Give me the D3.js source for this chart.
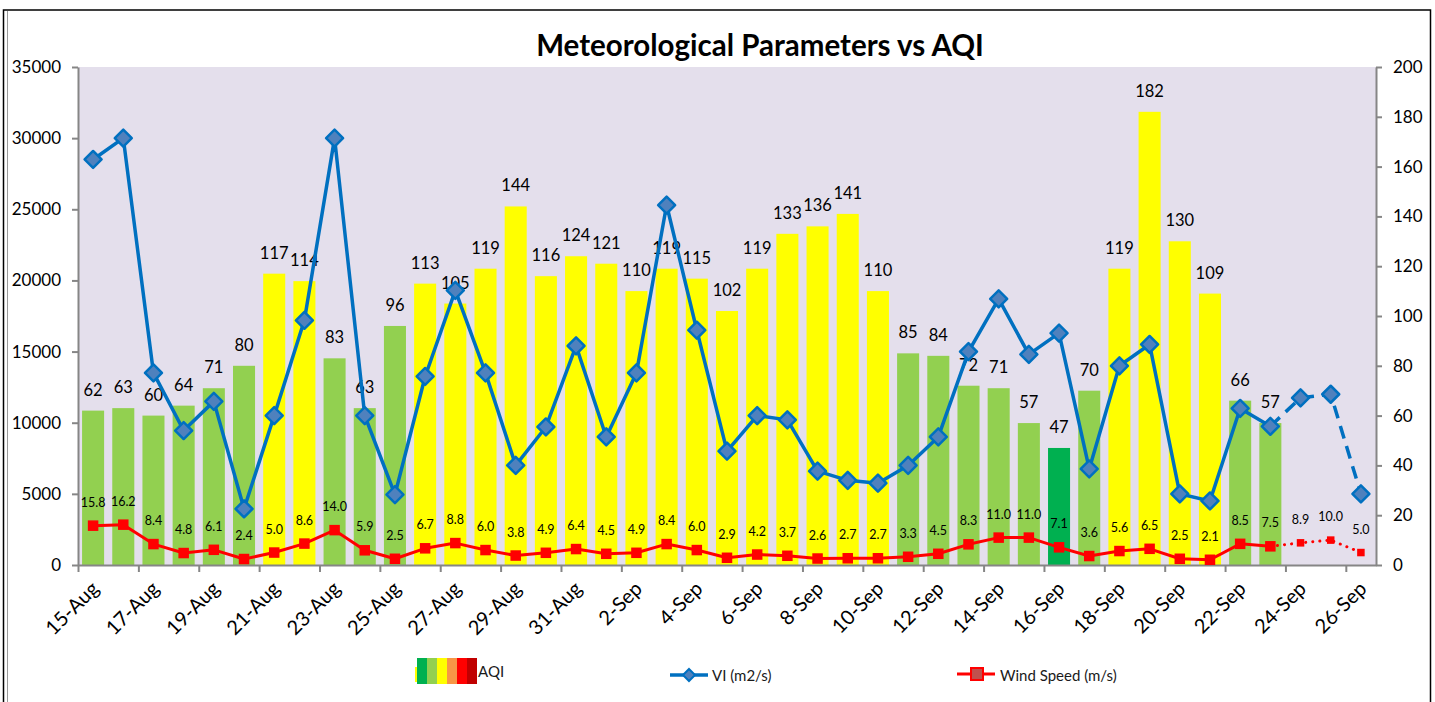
<!DOCTYPE html>
<html>
<head>
<meta charset="utf-8">
<script src="https://cdn.jsdelivr.net/npm/d3@7"></script>
<style>
  body { margin: 0; background: #fff; }
  svg { font-family: Lato, "Open Sans", sans-serif; }
</style>
</head>
<body>
<div id="chart"></div>
<script>
// categories, one per day
var dates = ["15-Aug","16-Aug","17-Aug","18-Aug","19-Aug","20-Aug","21-Aug","22-Aug","23-Aug","24-Aug",
             "25-Aug","26-Aug","27-Aug","28-Aug","29-Aug","30-Aug","31-Aug","1-Sep","2-Sep","3-Sep",
             "4-Sep","5-Sep","6-Sep","7-Sep","8-Sep","9-Sep","10-Sep","11-Sep","12-Sep","13-Sep",
             "14-Sep","15-Sep","16-Sep","17-Sep","18-Sep","19-Sep","20-Sep","21-Sep","22-Sep","23-Sep",
             "24-Sep","25-Sep","26-Sep"];

// AQI bars (right axis), no bars for the last three days
var aqi = [62, 63, 60, 64, 71, 80, 117, 114, 83, 63,
           96, 113, 105, 119, 144, 116, 124, 121, 110, 119,
           115, 102, 119, 133, 136, 141, 110, 85, 84, 72,
           71, 57, 47, 70, 119, 182, 130, 109, 66, 57];

// ventilation index (left axis)
var vi = [28500, 30000, 13500, 9450, 11500, 3950, 10500, 17200, 30000, 10500,
          4950, 13250, 19300, 13500, 7000, 9700, 15400, 9000, 13500, 25300,
          16500, 8000, 10500, 10200, 6600, 5950, 5750, 7000, 9000, 15000,
          18700, 14800, 16300, 6750, 14000, 15500, 5000, 4500, 11000, 9750,
          11750, 12000, 5000];

// wind speed (right axis)
var wind = [15.8, 16.2, 8.4, 4.8, 6.1, 2.4, 5.0, 8.6, 14.0, 5.9,
            2.5, 6.7, 8.8, 6.0, 3.8, 4.9, 6.4, 4.5, 4.9, 8.4,
            6.0, 2.9, 4.2, 3.7, 2.6, 2.7, 2.7, 3.3, 4.5, 8.3,
            11.0, 11.0, 7.1, 3.6, 5.6, 6.5, 2.5, 2.1, 8.5, 7.5,
            8.9, 10.0, 5.0];

var leftTicks = [0, 5000, 10000, 15000, 20000, 25000, 30000, 35000];
var rightTicks = [0, 20, 40, 60, 80, 100, 120, 140, 160, 180, 200];
var aqiLegendColors = ["#00B050", "#92D050", "#FFFF00", "#F79646", "#FF0000", "#C00000"];

var lastObserved = 39; // 23-Sep, after this the lines are forecast (dashed)

function aqiColor(v){
  if (v <= 50) return "#00B050";
  if (v <= 100) return "#92D050";
  if (v <= 200) return "#FFFF00";
  if (v <= 300) return "#F79646";
  if (v <= 400) return "#FF0000";
  return "#C00000";
}

var w = 1435, h = 702;
var plotLeft = 78, plotRight = 1376, plotTop = 67, plotBottom = 565;

var svg = d3.select("#chart").append("svg")
  .attr("width", w)
  .attr("height", h);

// frame
svg.append("rect")
  .attr("x", 3.5).attr("y", 10)
  .attr("width", 1427).attr("height", 700)
  .attr("fill", "none")
  .attr("stroke", "#000")
  .attr("stroke-width", 1.5);
svg.append("line")
  .attr("x1", 7.5).attr("y1", 11).attr("x2", 7.5).attr("y2", h)
  .attr("stroke", "#999").attr("stroke-width", 1);

var x = d3.scaleBand()
  .domain(d3.range(dates.length))
  .range([plotLeft, plotRight])
  .paddingInner(0.27)
  .paddingOuter(0.135);

var xEdge = d3.scaleLinear()
  .domain([0, dates.length])
  .range([plotLeft, plotRight]);

var yL = d3.scaleLinear().domain([0, 35000]).range([plotBottom, plotTop]);
var yR = d3.scaleLinear().domain([0, 200]).range([plotBottom, plotTop]);

function cx(i){ return x(i) + x.bandwidth() / 2; }

// plot background
svg.append("rect")
  .attr("x", plotLeft).attr("y", plotTop)
  .attr("width", plotRight - plotLeft).attr("height", plotBottom - plotTop)
  .attr("fill", "#E4DFEC");

// title
svg.append("text")
  .attr("x", 760).attr("y", 56)
  .attr("text-anchor", "middle")
  .attr("font-size", 29.5)
  .attr("font-weight", "bold")
  .attr("fill", "#000")
  .text("Meteorological Parameters vs AQI");

// bars
svg.selectAll("rect.bar")
  .data(aqi)
  .enter()
  .append("rect")
  .attr("class", "bar")
  .attr("x", function(d, i){ return x(i); })
  .attr("y", function(d){ return yR(d); })
  .attr("width", x.bandwidth())
  .attr("height", function(d){ return plotBottom - yR(d); })
  .attr("fill", function(d){ return aqiColor(d); });

// axes
var axisColor = "#868686";

var gL = svg.append("g")
  .attr("transform", "translate(" + plotLeft + ",0)")
  .call(d3.axisLeft(yL).tickValues(leftTicks).tickFormat(d3.format("d")).tickSize(6).tickPadding(11).tickSizeOuter(0));
var gR = svg.append("g")
  .attr("transform", "translate(" + plotRight + ",0)")
  .call(d3.axisRight(yR).tickValues(rightTicks).tickSize(6).tickPadding(11).tickSizeOuter(0));
var gX = svg.append("g")
  .attr("transform", "translate(0," + plotBottom + ")")
  .call(d3.axisBottom(xEdge).tickValues(d3.range(0, dates.length, 2)).tickFormat("").tickSize(7).tickSizeOuter(0));

[gL, gR, gX].forEach(function(g){
  g.select(".domain").attr("stroke", axisColor).attr("stroke-width", 2);
  g.selectAll(".tick line").attr("stroke", axisColor).attr("stroke-width", 2);
  g.selectAll(".tick text").attr("font-size", 17).attr("fill", "#000").attr("font-family", "Lato, sans-serif");
});

// x labels, every other day
svg.selectAll("text.xlab")
  .data(dates.filter(function(d, i){ return i % 2 == 0; }))
  .enter()
  .append("text")
  .attr("class", "xlab")
  .attr("text-anchor", "end")
  .attr("font-size", 20)
  .attr("fill", "#000")
  .attr("transform", function(d, i){
    return "translate(" + (cx(i * 2) + 7) + "," + 590 + ") rotate(-45)";
  })
  .text(function(d){ return d; });

// AQI value labels
svg.selectAll("text.aqilab")
  .data(aqi)
  .enter()
  .append("text")
  .attr("class", "aqilab")
  .attr("x", function(d, i){ return cx(i); })
  .attr("y", function(d){ return yR(d) - 15; })
  .attr("text-anchor", "middle")
  .attr("font-size", 16.5)
  .attr("fill", "#000")
  .text(function(d){ return d; });

// VI line
var viLine = d3.line()
  .x(function(d){ return cx(d.i); })
  .y(function(d){ return yL(d.v); });

var viPts = vi.map(function(v, i){ return {i: i, v: v}; });

svg.append("path")
  .datum(viPts.slice(0, lastObserved + 1))
  .attr("d", viLine)
  .attr("fill", "none")
  .attr("stroke", "#0070C0")
  .attr("stroke-width", 3.5)
  .attr("stroke-linejoin", "round");

svg.append("path")
  .datum(viPts.slice(lastObserved))
  .attr("d", viLine)
  .attr("fill", "none")
  .attr("stroke", "#0070C0")
  .attr("stroke-width", 3.5)
  .attr("stroke-dasharray", "13,8");

// wind line
var windLine = d3.line()
  .x(function(d){ return cx(d.i); })
  .y(function(d){ return yR(d.v); });

var windPts = wind.map(function(v, i){ return {i: i, v: v}; });

svg.append("path")
  .datum(windPts.slice(0, lastObserved + 1))
  .attr("d", windLine)
  .attr("fill", "none")
  .attr("stroke", "#FF0000")
  .attr("stroke-width", 3)
  .attr("stroke-linejoin", "round");

svg.append("path")
  .datum(windPts.slice(lastObserved))
  .attr("d", windLine)
  .attr("fill", "none")
  .attr("stroke", "#FF0000")
  .attr("stroke-width", 3)
  .attr("stroke-linecap", "round")
  .attr("stroke-dasharray", "0.1,7");

// wind markers
svg.selectAll("rect.wmark")
  .data(windPts)
  .enter()
  .append("rect")
  .attr("class", "wmark")
  .attr("x", function(d){ return cx(d.i) - (d.i > lastObserved ? 3 : 4.5); })
  .attr("y", function(d){ return yR(d.v) - (d.i > lastObserved ? 3 : 4.5); })
  .attr("width", function(d){ return d.i > lastObserved ? 6 : 9; })
  .attr("height", function(d){ return d.i > lastObserved ? 6 : 9; })
  .attr("fill", "#FF0000")
  .attr("stroke", "#FF0000")
  .attr("stroke-width", 1.5);

// VI diamond markers
svg.selectAll("path.vmark")
  .data(viPts)
  .enter()
  .append("path")
  .attr("class", "vmark")
  .attr("d", "M0,-8.5L8.5,0L0,8.5L-8.5,0Z")
  .attr("transform", function(d){ return "translate(" + cx(d.i) + "," + yL(d.v) + ")"; })
  .attr("fill", "#4F81BD")
  .attr("stroke", "#0070C0")
  .attr("stroke-width", 2.5)
  .attr("stroke-linejoin", "round");

// wind value labels
svg.selectAll("text.wlab")
  .data(windPts)
  .enter()
  .append("text")
  .attr("class", "wlab")
  .attr("x", function(d){ return cx(d.i); })
  .attr("y", function(d){ return yR(d.v) - 19; })
  .attr("text-anchor", "middle")
  .attr("font-size", 12.5)
  .attr("fill", "#000")
  .text(function(d){ return d.v.toFixed(1); });

// legend
var leg = svg.append("g").attr("font-size", 15).attr("fill", "#1a1a1a");

leg.append("rect")
  .attr("x", 415).attr("y", 667).attr("width", 3).attr("height", 15)
  .attr("fill", "#FFFF00");
leg.selectAll("rect.sw")
  .data(aqiLegendColors)
  .enter()
  .append("rect")
  .attr("class", "sw")
  .attr("x", function(d, i){ return 417 + i * 10; })
  .attr("y", 658)
  .attr("width", 10)
  .attr("height", 26)
  .attr("fill", function(d){ return d; });
leg.append("text").attr("x", 478).attr("y", 677).text("AQI");

leg.append("line")
  .attr("x1", 670).attr("y1", 675).attr("x2", 708).attr("y2", 675)
  .attr("stroke", "#0070C0").attr("stroke-width", 3.5);
leg.append("path")
  .attr("d", "M0,-6L6,0L0,6L-6,0Z")
  .attr("transform", "translate(689,675)")
  .attr("fill", "#4F81BD").attr("stroke", "#0070C0").attr("stroke-width", 2);
leg.append("text").attr("x", 712).attr("y", 681).text("VI (m2/s)");

leg.append("line")
  .attr("x1", 957).attr("y1", 674).attr("x2", 995).attr("y2", 674)
  .attr("stroke", "#FF0000").attr("stroke-width", 3);
leg.append("rect")
  .attr("x", 971).attr("y", 668).attr("width", 12).attr("height", 12)
  .attr("fill", "#C0504D").attr("stroke", "#FF0000").attr("stroke-width", 2);
leg.append("text").attr("x", 1000).attr("y", 681).text("Wind Speed (m/s)");
</script>
</body>
</html>
